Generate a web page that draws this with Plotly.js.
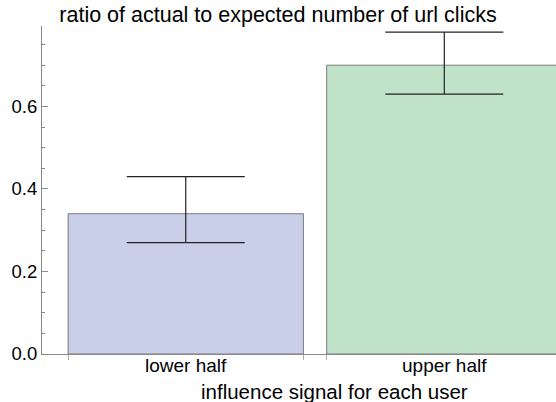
<!DOCTYPE html>
<html>
<head>
<meta charset="utf-8">
<script src="https://cdn.plot.ly/plotly-3.0.1.min.js"></script>
<style>html,body{margin:0;padding:0;background:#fff;}#chart{width:556px;height:402px;}</style>
</head>
<body>
<div id="chart"></div>
<script>
const categories = ["lower half", "upper half"];
const values = [0.34, 0.70];
const errUpper = [0.43, 0.78];
const errLower = [0.27, 0.63];
const colors = ["#c9cfe8", "#c0e2c9"];
const yTicks = [0, 0.2, 0.4, 0.6];
const xTitle = "influence signal for each user";
const chartTitle = "ratio of actual to expected number of url clicks";

const pos = categories.map((c, i) => i);
const barWidth = 0.91;
const edges = [];
pos.forEach(p => { edges.push(p - barWidth / 2, p + barWidth / 2); });

const trace = {
  type: "bar",
  x: pos,
  y: values,
  width: barWidth,
  marker: { color: colors, line: { color: "#7a7a7a", width: 1 } },
  error_y: {
    type: "data",
    symmetric: false,
    array: values.map((v, i) => errUpper[i] - v),
    arrayminus: values.map((v, i) => v - errLower[i]),
    color: "#222",
    thickness: 1.2,
    width: 59
  },
  hoverinfo: "none"
};

const edgeTrace = {
  type: "scatter", mode: "markers", x: edges, y: edges.map(() => 0),
  xaxis: "x2", marker: { opacity: 0 }, hoverinfo: "none", showlegend: false
};

const catLabels = categories.map((c, i) => ({
  text: c, showarrow: false,
  xref: "x", yref: "paper", x: pos[i], y: -0.034,
  xanchor: "center", yanchor: "middle",
  font: { size: 19, color: "#000" }
}));

const xr = [-0.556, 1.432];
const layout = {
  width: 556, height: 402,
  margin: { l: 42, r: 0, t: 26, b: 48 },
  paper_bgcolor: "#fff", plot_bgcolor: "#fff",
  showlegend: false,
  font: { family: "Liberation Sans, Arial, sans-serif", color: "#000", size: 19 },
  title: {
    text: chartTitle,
    font: { size: 21.5, color: "#000" },
    x: 0.5, xref: "container", xanchor: "center",
    y: 0.965, yref: "container", yanchor: "middle"
  },
  xaxis: {
    range: xr, tickvals: pos, showticklabels: false, ticks: "",
    showgrid: false, zeroline: false, showline: true, linecolor: "#8a8a8a", linewidth: 1,
    automargin: false, fixedrange: true
  },
  xaxis2: {
    overlaying: "x", range: xr, tickvals: edges, showticklabels: false,
    ticks: "outside", ticklen: 5, tickcolor: "#b0b0b0", tickwidth: 1,
    showgrid: false, zeroline: false, showline: false, anchor: "y"
  },
  yaxis: {
    range: [0, 0.795], tickvals: yTicks, tickformat: ".1f",
    ticks: "inside", ticklen: 6, tickcolor: "#8a8a8a", tickwidth: 1,
    minor: { dtick: 0.05, ticks: "inside", ticklen: 3, tickcolor: "#8a8a8a", tickwidth: 1, showgrid: false },
    showgrid: false, zeroline: false, showline: true, linecolor: "#8a8a8a", linewidth: 1,
    tickfont: { size: 18.5 }, automargin: false, fixedrange: true
  },
  annotations: catLabels.concat([{
    text: xTitle, showarrow: false,
    xref: "paper", yref: "paper", x: 0.57, y: -0.115,
    xanchor: "center", yanchor: "middle",
    font: { size: 20.5, color: "#000" }
  }])
};

Plotly.newPlot("chart", [trace, edgeTrace], layout, { staticPlot: true, displayModeBar: false });
</script>
</body>
</html>
